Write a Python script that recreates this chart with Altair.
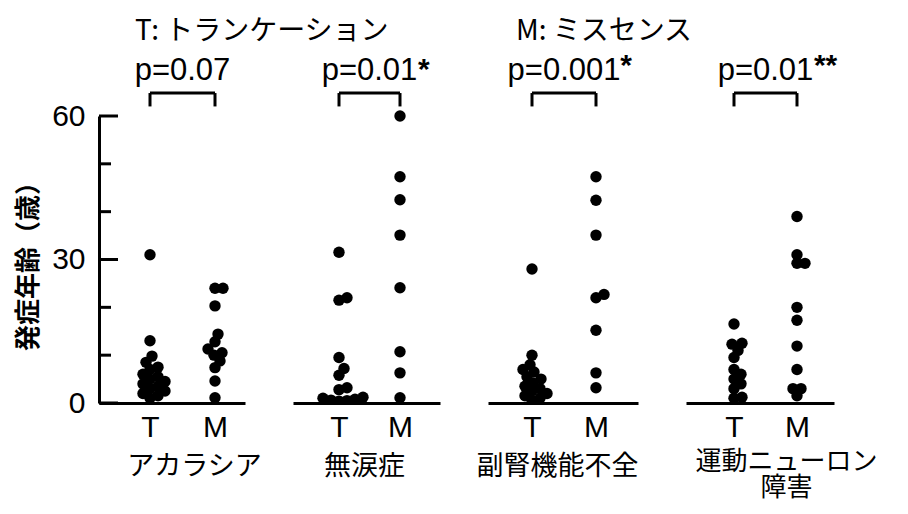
import altair as alt
import pandas as pd

# ---------------- data ----------------
groups = ["T", "M"]
disease_labels = ["アカラシア", "無涙症", "副腎機能不全", "運動ニューロン\n障害"]
p_values = ["p=0.07", "p=0.01", "p=0.001", "p=0.01"]
p_stars = ["", "*", "*", "**"]
header_labels = ["T: トランケーション", "M: ミスセンス"]
y_title = "発症年齢（歳）"
y_tick_values = [0, 10, 20, 30, 40, 50, 60]
y_label_values = [0, 30, 60]

t_achalasia = [31, 13, 9.8, 8.5, 7.5, 7, 6, 5.5, 5, 4.5, 4, 3.5, 3, 2.5, 2, 1.5, 1]
m_achalasia = [24, 24, 20.3, 14.4, 12.8, 11.3, 10.5, 10, 8.8, 7.4, 4.6, 1.1]
t_alacrima = [31.5, 22, 21.5, 9.5, 7.2, 5.8, 3.2, 2.8, 1.2, 1, 0.8, 0.6, 0.5, 0.4]
m_alacrima = [60, 47.3, 42.5, 35.1, 24.1, 10.7, 6.3, 1.1]
t_adrenal = [28, 10, 8, 7, 6.5, 5.5, 5, 4.2, 3.5, 3, 2.5, 2, 1.5, 1, 0.5]
m_adrenal = [47.3, 42.4, 35.1, 22.7, 22, 15.2, 6.3, 3.2]
t_motor = [16.5, 12.5, 12.3, 11, 9.5, 7, 6, 5, 4, 3, 1.2, 1]
m_motor = [39, 31, 29.2, 29.2, 20, 17.3, 11.9, 7, 3, 3, 1.5]

series = [
    (t_achalasia, m_achalasia),
    (t_alacrima, m_alacrima),
    (t_adrenal, m_adrenal),
    (t_motor, m_motor),
]

# ---------------- layout / style ----------------
PLOT_H = 287
PX_PER_YEAR = PLOT_H / 60.0
MIN_DIST = 8.0
panel_w = [146, 147, 150, 148]
t_px = [51, 46, 44, 48]       # T position from panel left (px)
gap_px = [65, 61, 64, 63]     # T -> M distance (px)
title_x = [95, 71, 69, 100]
title_y = [50, 50, 50, 45]

LATIN = "Liberation Sans"
CJK = "Noto Sans CJK JP"

Y_HEADER = 77.6
Y_P = 67.6
Y_BR_TOP = 64.8
Y_BR_BOT = 62.0


def swarm(values):
    order = sorted(range(len(values)), key=lambda i: values[i])
    placed = []
    offs = [0.0] * len(values)
    for i in order:
        y = values[i] * PX_PER_YEAR
        k = 0
        found = None
        while found is None:
            cands = [0] if k == 0 else [k, -k]
            for c in cands:
                if all((c - px) ** 2 + (y - py) ** 2 >= MIN_DIST ** 2 for px, py in placed):
                    found = c
                    break
            k += 1
        offs[i] = found
        placed.append((found, y))
    return offs


def panel(i):
    t_vals, m_vals = series[i]
    gap = gap_px[i]
    rows = []
    for gi, vals in enumerate([t_vals, m_vals]):
        offs = swarm(vals)
        for v, o in zip(vals, offs):
            rows.append({"group": groups[gi], "age": v, "x": (gi + 1) + o / gap})
    df = pd.DataFrame(rows)

    lo = 1 - t_px[i] / gap
    hi = lo + panel_w[i] / gap
    xs = alt.Scale(domain=[lo, hi], nice=False, zero=False)
    ys = alt.Scale(domain=[0, 60], nice=False, zero=True)

    title = disease_labels[i].split("\n")
    title = title[0] if len(title) == 1 else title

    x_axis = alt.Axis(
        values=[1, 2],
        labelExpr="datum.value == 1 ? 'T' : 'M'",
        ticks=False, grid=False,
        domain=True, domainColor="black", domainWidth=3,
        labelFont=LATIN, labelFontSize=30, labelColor="black", labelPadding=9,
        labelFlush=False, labelOverlap=False,
        title=title, titleFont=CJK, titleFontSize=26 if i == 3 else 27, titleFontWeight="normal",
        titleColor="black", titleX=title_x[i], titleY=title_y[i],
        titleAlign="center", titleBaseline="top", titleAngle=0, titleLineHeight=26,
    )
    if i == 0:
        y_axis = alt.Axis(
            values=y_label_values, ticks=False, grid=False,
            domain=True, domainColor="black", domainWidth=3,
            labelFont=LATIN, labelFontSize=30, labelColor="black", labelPadding=14,
            title=y_title, titleFont=CJK, titleFontSize=26, titleFontWeight="bold",
            titleColor="black", titlePadding=10,
        )
    else:
        y_axis = None

    base = alt.Chart(df)
    pts_low = base.mark_circle(size=130, color="black", opacity=1, clip=True).encode(
        x=alt.X("x:Q", scale=xs, axis=x_axis),
        y=alt.Y("age:Q", scale=ys, axis=y_axis),
    ).transform_filter("datum.age <= 50")
    pts_high = base.mark_circle(size=130, color="black", opacity=1).encode(
        x=alt.X("x:Q", scale=xs),
        y=alt.Y("age:Q", scale=ys),
    ).transform_filter("datum.age > 50")

    layers = [pts_low, pts_high]

    ann = pd.DataFrame({"p": [p_values[i]], "star": [p_stars[i]]})
    br_h = alt.Chart(ann).mark_rule(color="black", strokeWidth=3).encode(
        x=alt.datum(1), x2=alt.datum(2), y=alt.datum(Y_BR_TOP))
    br_v = alt.Chart(pd.DataFrame({"g": [1, 2]})).mark_rule(color="black", strokeWidth=3).encode(
        x="g:Q", y=alt.datum(Y_BR_TOP), y2=alt.datum(Y_BR_BOT))
    ptxt = alt.Chart(ann).mark_text(font=LATIN, fontSize=31, color="black", align="center",
                                    baseline="alphabetic").encode(
        x=alt.datum(1.5), y=alt.datum(Y_P), text="p:N")
    layers += [br_h, br_v, ptxt]
    if p_stars[i]:
        half_w = len(p_values[i]) * 0.51 * 31 / 2
        stxt = alt.Chart(ann).mark_text(font=LATIN, fontSize=30, fontWeight="bold", color="black",
                                        align="left", baseline="alphabetic", dx=half_w + 1,
                                        dy=-5 if i >= 2 else -1).encode(
            x=alt.datum(1.5), y=alt.datum(Y_P), text="star:N")
        layers.append(stxt)

    if i == 0:
        tick_major = alt.Chart(pd.DataFrame({"v": y_label_values})).mark_rule(
            color="black", strokeWidth=3).encode(y="v:Q", x=alt.value(0), x2=alt.value(19))
        tick_minor = alt.Chart(pd.DataFrame({"v": [v for v in y_tick_values if v not in y_label_values]})).mark_rule(
            color="black", strokeWidth=3).encode(y="v:Q", x=alt.value(0), x2=alt.value(12))
        head = alt.Chart(pd.DataFrame({"h": [header_labels[0]]})).mark_text(
            font=CJK, fontSize=28, color="black", align="center", baseline="middle").encode(
            x=alt.datum(2.72), y=alt.datum(Y_HEADER), text="h:N")
        layers += [tick_major, tick_minor, head]
    if i == 2:
        head = alt.Chart(pd.DataFrame({"h": [header_labels[1]]})).mark_text(
            font=CJK, fontSize=28, color="black", align="center", baseline="middle").encode(
            x=alt.datum(2.125), y=alt.datum(Y_HEADER), text="h:N")
        layers.append(head)

    return alt.layer(*layers).properties(width=panel_w[i], height=PLOT_H)


chart = alt.hconcat(*[panel(i) for i in range(4)], spacing=48, bounds="flush").configure_view(
    stroke=None
).properties(
    padding={"left": 7, "top": 9, "right": 5, "bottom": 5},
    background="white",
)

chart.save("out.html", embed_options={"renderer": "svg", "actions": False})
